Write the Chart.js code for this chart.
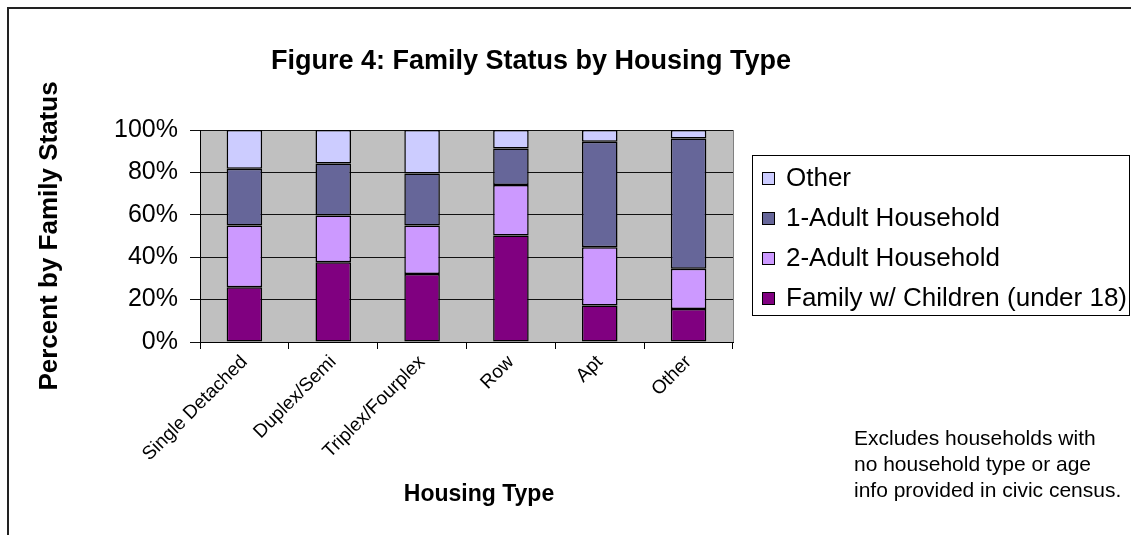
<!DOCTYPE html>
<html><head><meta charset="utf-8">
<script src="https://cdn.jsdelivr.net/npm/chart.js@4"></script>
<style>
html,body{margin:0;padding:0;background:#fff;}
canvas{display:block;}
</style></head>
<body>
<canvas id="c" width="1131" height="535"></canvas>
<script>
const categories = ['Single Detached','Duplex/Semi','Triplex/Fourplex','Row','Apt','Other'];
const familyWithChildren = [25.8, 37.6, 32.1, 50.2, 17.2, 15.6];
const twoAdult = [29.2, 22.1, 22.9, 23.8, 27.5, 18.9];
const oneAdult = [26.7, 24.5, 24.5, 17.3, 49.8, 61.5];
const otherStatus = [18.3, 15.8, 20.5, 8.7, 5.5, 4.0];
const yTicks = [0, 20, 40, 60, 80, 100];
const seriesNames = ['Family w/ Children (under 18)', '2-Adult Household', '1-Adult Household', 'Other'];
const seriesColors = ['#800080', '#CC99FF', '#666699', '#CCCCFF'];
const chartTitle = 'Figure 4: Family Status by Housing Type';
const xAxisTitle = 'Housing Type';
const yAxisTitle = 'Percent by Family Status';
const noteLines = ['Excludes households with', 'no household type or age', 'info provided in civic census.'];

const FONT = "'Liberation Sans', Arial, sans-serif";

const bgPlugin = {
  id: 'bg',
  beforeDraw(chart) {
    const {ctx, chartArea: a} = chart;
    ctx.save();
    ctx.fillStyle = '#fff';
    ctx.fillRect(0, 0, chart.width, chart.height);
    ctx.fillStyle = '#C0C0C0';
    ctx.fillRect(a.left, a.top, a.right - a.left, a.bottom - a.top);
    ctx.restore();
  },
  beforeDatasetsDraw(chart) {
    const {ctx, chartArea: a} = chart;
    ctx.save();
    ctx.strokeStyle = '#808080';
    ctx.lineWidth = 1;
    ctx.beginPath();
    ctx.moveTo(a.right + 0.5, a.top);
    ctx.lineTo(a.right + 0.5, a.bottom);
    ctx.stroke();
    ctx.restore();
  }
};

const decoPlugin = {
  id: 'deco',
  afterDraw(chart) {
    const ctx = chart.ctx;
    ctx.save();
    ctx.strokeStyle = '#222';
    ctx.lineWidth = 2;
    ctx.beginPath();
    ctx.moveTo(8, chart.height + 2);
    ctx.lineTo(8, 8);
    ctx.lineTo(chart.width + 2, 8);
    ctx.stroke();

    ctx.fillStyle = '#000';
    ctx.font = 'bold 27px ' + FONT;
    ctx.textAlign = 'center';
    ctx.textBaseline = 'middle';
    ctx.fillText(chartTitle, 531, 62);

    ctx.font = 'bold 23px ' + FONT;
    ctx.fillText(xAxisTitle, 479, 495);

    ctx.strokeStyle = '#000';
    ctx.lineWidth = 1;
    ctx.strokeRect(752.5, 155.5, 377, 160);
    ctx.font = '26px ' + FONT;
    ctx.textAlign = 'left';
    ctx.textBaseline = 'middle';
    const ds = chart.data.datasets;
    for (let k = 0; k < ds.length; k++) {
      const d = ds[ds.length - 1 - k];
      const yc = 178 + k * 40;
      ctx.fillStyle = d.backgroundColor;
      ctx.fillRect(762, yc - 6, 12, 12);
      ctx.strokeRect(762.5, yc - 5.5, 12, 12);
      ctx.fillStyle = '#000';
      ctx.fillText(d.label, 786, yc + 1);
    }

    ctx.font = '21px ' + FONT;
    ctx.textBaseline = 'alphabetic';
    noteLines.forEach((t, i) => ctx.fillText(t, 854, 445 + i * 26));
    ctx.restore();
  }
};

const datasets = seriesNames.map((name, i) => ({
  label: name,
  data: [familyWithChildren, twoAdult, oneAdult, otherStatus][i],
  backgroundColor: seriesColors[i],
  borderColor: '#000',
  borderWidth: 1.5,
  borderSkipped: false,
  categoryPercentage: 1,
  barPercentage: 0.4
}));

new Chart(document.getElementById('c'), {
  type: 'bar',
  data: {labels: categories, datasets},
  options: {
    responsive: false,
    animation: false,
    devicePixelRatio: 1,
    layout: {padding: {left: 0, top: 130, right: 398, bottom: 0}},
    plugins: {legend: {display: false}, title: {display: false}, tooltip: {enabled: false}},
    scales: {
      x: {
        stacked: true,
        grid: {display: true, drawOnChartArea: false, drawTicks: true, tickLength: 7, color: '#000', offset: true},
        border: {color: '#000'},
        ticks: {font: {family: FONT, size: 19}, color: '#000', minRotation: 45, maxRotation: 45, padding: 2, autoSkip: false},
        title: {display: false},
        afterFit(s) { s.height = 193; }
      },
      y: {
        stacked: true,
        min: 0,
        max: 100,
        afterBuildTicks(s) { s.ticks = yTicks.map(v => ({value: v})); },
        ticks: {callback: v => v + '%', font: {family: FONT, size: 25}, color: '#000', padding: 12},
        grid: {color: '#111', tickLength: 10, drawTicks: true},
        border: {color: '#000'},
        title: {display: true, text: yAxisTitle, font: {family: FONT, size: 26, weight: 'bold'}, color: '#000', padding: {top: 34, bottom: 0}},
        afterFit(s) { s.width = 200; }
      }
    }
  },
  plugins: [bgPlugin, decoPlugin]
});
</script>
</body></html>
